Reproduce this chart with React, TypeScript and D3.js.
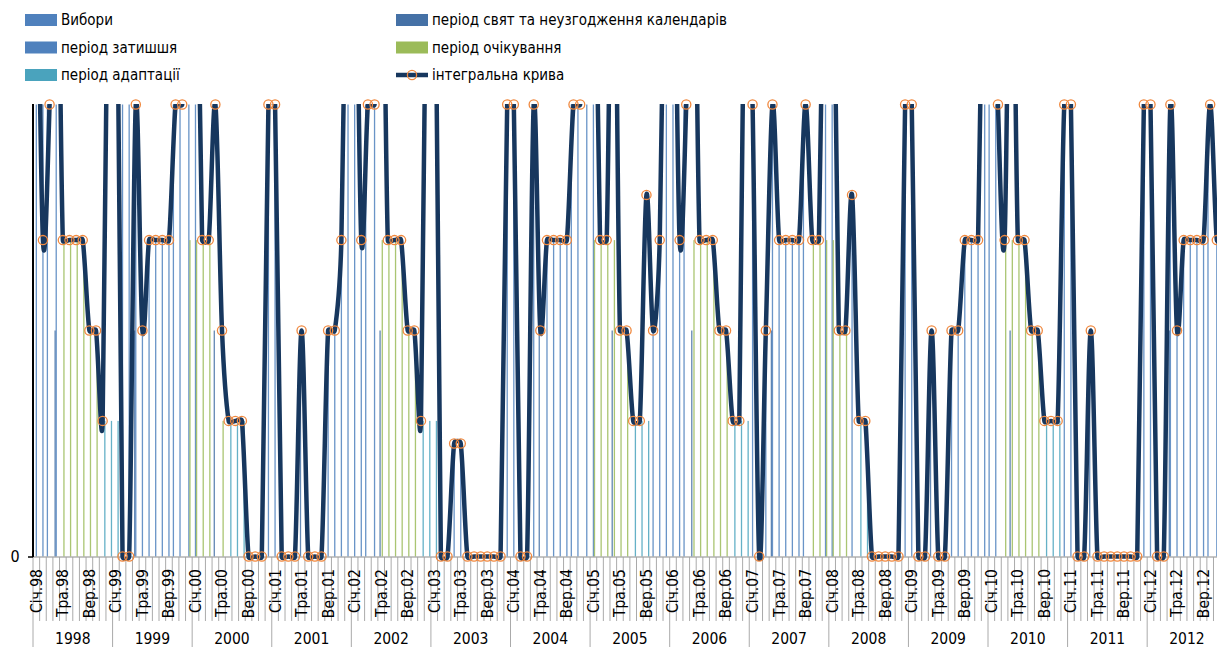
import * as React from 'react';
import * as d3 from 'd3';

const WIDTH = 1217;
const HEIGHT = 647;

const years = ['1998', '1999', '2000', '2001', '2002', '2003', '2004', '2005', '2006', '2007', '2008', '2009', '2010', '2011', '2012'];
const labelMonths = ['Січ', 'Тра', 'Вер'];

// integral curve, one value per month (Jan 1998 .. Dec 2012); 1.6 = off the top of the axis
const integral = [
  1.6, 0.7, 1, 1.6, 0.7, 0.7, 0.7, 0.7, 0.5, 0.5, 0.3, 1.6,
  1.6, 0, 0, 1, 0.5, 0.7, 0.7, 0.7, 0.7, 1, 1, 1.6,
  1.6, 0.7, 0.7, 1, 0.5, 0.3, 0.3, 0.3, 0, 0, 0, 1,
  1, 0, 0, 0, 0.5, 0, 0, 0, 0.5, 0.5, 0.7, 1.6,
  1.6, 0.7, 1, 1, 1.6, 0.7, 0.7, 0.7, 0.5, 0.5, 0.3, 1.6,
  1.6, 0, 0, 0.25, 0.25, 0, 0, 0, 0, 0, 0, 1,
  1, 0, 0, 1, 0.5, 0.7, 0.7, 0.7, 0.7, 1, 1, 1.6,
  1.6, 0.7, 0.7, 1.6, 0.5, 0.5, 0.3, 0.3, 0.8, 0.5, 0.7, 1.6,
  1.6, 0.7, 1, 1.6, 0.7, 0.7, 0.7, 0.5, 0.5, 0.3, 0.3, 1.6,
  1, 0, 0.5, 1, 0.7, 0.7, 0.7, 0.7, 1, 0.7, 0.7, 1.6,
  1.6, 0.5, 0.5, 0.8, 0.3, 0.3, 0, 0, 0, 0, 0, 1,
  1, 0, 0, 0.5, 0, 0, 0.5, 0.5, 0.7, 0.7, 0.7, 1.6,
  1.6, 1, 0.7, 1.6, 0.7, 0.7, 0.5, 0.5, 0.3, 0.3, 0.3, 1,
  1, 0, 0, 0.5, 0, 0, 0, 0, 0, 0, 0, 1,
  1, 0, 0, 1, 0.5, 0.7, 0.7, 0.7, 0.7, 1, 0.7, 0.7,
];

// bars: [month index, value]
const elections: [number, number][] = [
  [2, 1], [21, 1], [22, 1], [50, 1], [81, 1], [82, 1], [98, 1], [116, 1], [144, 1], [145, 1], [177, 1],
];
const holidays: [number, number][] = [
  [3, 0.5], [15, 0.5], [27, 0.5], [40, 0.5], [52, 0.5], [76, 0.5], [87, 0.5], [99, 0.5],
  [111, 0.5], [135, 0.5], [147, 0.5], [159, 0.5], [171, 0.5],
];
const calm: [number, number][] = [
  [0, 1], [1, 1], [3, 1], [13, 1], [14, 1], [15, 1], [16, 0.5], [17, 0.7], [18, 0.7], [19, 0.7], [20, 0.7],
  [23, 1], [24, 1], [35, 1], [36, 1], [44, 0.5], [45, 0.5], [46, 0.7], [47, 1], [48, 1], [49, 0.7], [51, 1],
  [63, 0.25], [64, 0.25], [71, 1], [72, 1], [75, 1], [77, 0.7], [78, 0.7], [79, 0.7], [80, 0.7], [83, 1], [84, 1],
  [93, 0.5], [94, 0.7], [95, 1], [96, 1], [97, 0.7], [108, 1], [110, 0.5], [111, 1], [112, 0.7], [113, 0.7],
  [114, 0.7], [115, 0.7], [119, 1], [120, 1], [123, 0.8], [131, 1], [132, 1], [138, 0.5], [139, 0.5],
  [140, 0.7], [141, 0.7], [142, 0.7], [143, 1], [155, 1], [156, 1], [167, 1], [168, 1], [171, 1], [172, 0.5],
  [173, 0.7], [174, 0.7], [175, 0.7], [176, 0.7], [178, 0.7], [179, 0.7],
];
const waiting: [number, number][] = [
  [4, 0.7], [5, 0.7], [6, 0.7], [7, 0.7], [8, 0.5], [9, 0.5], [23, 0.7], [24, 0.7], [25, 0.7], [26, 0.7], [28, 0.3],
  [52, 0.7], [53, 0.7], [54, 0.7], [55, 0.7], [56, 0.5], [57, 0.5], [84, 0.7], [85, 0.7], [86, 0.7], [87, 0.7],
  [88, 0.5], [89, 0.5], [99, 0.7], [100, 0.7], [101, 0.7], [102, 0.7], [103, 0.5], [104, 0.5], [117, 0.7],
  [118, 0.7], [119, 0.7], [120, 0.7], [121, 0.5], [122, 0.5], [146, 0.7], [147, 0.7], [148, 0.7], [149, 0.7],
  [150, 0.5], [151, 0.5],
];
const adaptation: [number, number][] = [
  [10, 0.3], [11, 0.3], [12, 0.3], [29, 0.3], [30, 0.3], [31, 0.3], [58, 0.3], [59, 0.3], [60, 0.3],
  [90, 0.3], [91, 0.3], [92, 0.3], [105, 0.3], [106, 0.3], [107, 0.3], [124, 0.3], [125, 0.3],
  [152, 0.3], [153, 0.3], [154, 0.3],
];

const barSeries = [
  { name: 'Вибори', color: '#4F81BD', data: elections },
  { name: 'період свят та неузгодження календарів', color: '#4571A6', data: holidays },
  { name: 'період затишшя', color: '#4F81BD', data: calm },
  { name: 'період очікування', color: '#9BBB59', data: waiting },
  { name: 'період адаптації', color: '#4AA3BD', data: adaptation },
];

const FONT = "'Liberation Sans Narrow', 'DejaVu Sans Condensed', Roboto, sans-serif";
const LINE_COLOR = '#17375E';
const MARKER_COLOR = '#F0883E';

type Pt = [number, number];

// spreadsheet-style smoothing: bezier handles are 1/6 of the neighbour chord,
// but never longer than half of the segment itself
function smoothPath(pts: Pt[]) {
  const dist = (a: Pt, b: Pt) => Math.hypot(a[0] - b[0], a[1] - b[1]);
  let d = `M${pts[0][0]},${pts[0][1]}`;
  for (let i = 0; i < pts.length - 1; i += 1) {
    const p0 = pts[Math.max(i - 1, 0)];
    const p1 = pts[i];
    const p2 = pts[i + 1];
    const p3 = pts[Math.min(i + 2, pts.length - 1)];
    const d12 = dist(p1, p2);
    const d02 = dist(p0, p2);
    const d13 = dist(p1, p3);
    const f = d02 > 0 ? Math.min(1 / 6, d12 / (2 * d02)) : 0;
    const g = d13 > 0 ? Math.min(1 / 6, d12 / (2 * d13)) : 0;
    const c1x = p1[0] + f * (p2[0] - p0[0]);
    const c1y = p1[1] + f * (p2[1] - p0[1]);
    const c2x = p2[0] - g * (p3[0] - p1[0]);
    const c2y = p2[1] - g * (p3[1] - p1[1]);
    d += `C${c1x},${c1y},${c2x},${c2y},${p2[0]},${p2[1]}`;
  }
  return d;
}

export default function App() {
  const left = 33;
  const monthW = 6.632;
  const months = d3.range(years.length * 12);
  const x = d3.scaleBand<number>().domain(months).range([left, left + monthW * months.length]);
  const y = d3.scaleLinear().domain([0, 1]).range([556.5, 104.5]);
  const xc = (i: number) => (x(i) as number) + x.bandwidth() / 2;
  const right = left + monthW * months.length;

  const curve = smoothPath(integral.map((v, i) => [xc(i), y(v)] as Pt));

  const legendRows = [20, 47.5, 75];
  const legendLeft = [
    { label: 'Вибори', color: barSeries[0].color },
    { label: 'період затишшя', color: barSeries[2].color },
    { label: 'період адаптації', color: barSeries[4].color },
  ];
  const legendRight = [
    { label: 'період свят та неузгодження календарів', color: barSeries[1].color },
    { label: 'період очікування', color: barSeries[3].color },
  ];

  return (
    <svg width={WIDTH} height={HEIGHT} style={{ position: 'absolute', left: 0, top: 0, background: '#fff' }}
      fontFamily={FONT}>
      <defs>
        <clipPath id="plot-clip">
          <rect x={left} y={y(1) - 0.5} width={right - left} height={y(0) - y(1) + 5} />
        </clipPath>
      </defs>

      {/* bars, clustered inside each month */}
      <g>
        {barSeries.map((s, k) => (
          <g key={s.name}>
            {s.data.map(([m, v]) => (
              <rect key={m} x={xc(m) + (k - 2) * 1.1 - 0.65} width={1.3}
                y={y(v)} height={y(0) - y(v)} fill={s.color} opacity={0.85} />
            ))}
          </g>
        ))}
      </g>

      {/* category axis */}
      <line x1={left} x2={right} y1={557} y2={557} stroke="#8c8c8c" strokeWidth={1.2} />
      {d3.range(months.length + 1).map((j) => (
        <line key={j} x1={left + j * monthW} x2={left + j * monthW} y1={557} y2={j % 12 === 0 ? HEIGHT : 621}
          stroke="#a0a0a0" strokeWidth={0.9} />
      ))}
      {months.filter((i) => i % 4 === 0).map((i) => (
        <text key={i} transform={`translate(${xc(i)},569) rotate(-90)`} textAnchor="end" dy="0.35em"
          fontSize={15.5} fill="#000">
          {`${labelMonths[(i % 12) / 4]}.${years[Math.floor(i / 12)].slice(2)}`}
        </text>
      ))}
      {years.map((yr, k) => (
        <text key={yr} x={left + monthW * 12 * (k + 0.5)} y={644} textAnchor="middle" fontSize={15.5} fill="#000">
          {yr}
        </text>
      ))}

      {/* value axis */}
      <line x1={left} x2={left} y1={y(1) - 0.5} y2={557} stroke="#000" strokeWidth={2} />
      <line x1={28} x2={left} y1={557} y2={557} stroke="#000" strokeWidth={1.5} />
      <text x={15} y={562} textAnchor="middle" fontSize={16} fill="#000">0</text>

      {/* integral curve */}
      <path d={curve} fill="none" stroke={LINE_COLOR} strokeWidth={4.5}
        strokeLinejoin="round" clipPath="url(#plot-clip)" />
      {integral.map((v, i) => (v <= 1 ? (
        <circle key={i} cx={xc(i)} cy={y(v)} r={4.6} fill="none" stroke={MARKER_COLOR} strokeWidth={1.3} />
      ) : null))}

      {/* legend */}
      {legendLeft.map((d, r) => (
        <g key={d.label}>
          <rect x={25} y={legendRows[r] - 6} width={32} height={12} fill={d.color} />
          <text x={61} y={legendRows[r] + 5} fontSize={15} fill="#000">{d.label}</text>
        </g>
      ))}
      {legendRight.map((d, r) => (
        <g key={d.label}>
          <rect x={396} y={legendRows[r] - 6} width={32} height={12} fill={d.color} />
          <text x={432} y={legendRows[r] + 5} fontSize={15} fill="#000">{d.label}</text>
        </g>
      ))}
      <g>
        <line x1={396} x2={428} y1={legendRows[2]} y2={legendRows[2]} stroke={LINE_COLOR} strokeWidth={4.5} />
        <circle cx={412} cy={legendRows[2]} r={4.6} fill="none" stroke={MARKER_COLOR} strokeWidth={1.3} />
        <text x={432} y={legendRows[2] + 5} fontSize={15} fill="#000">інтегральна крива</text>
      </g>
    </svg>
  );
}
